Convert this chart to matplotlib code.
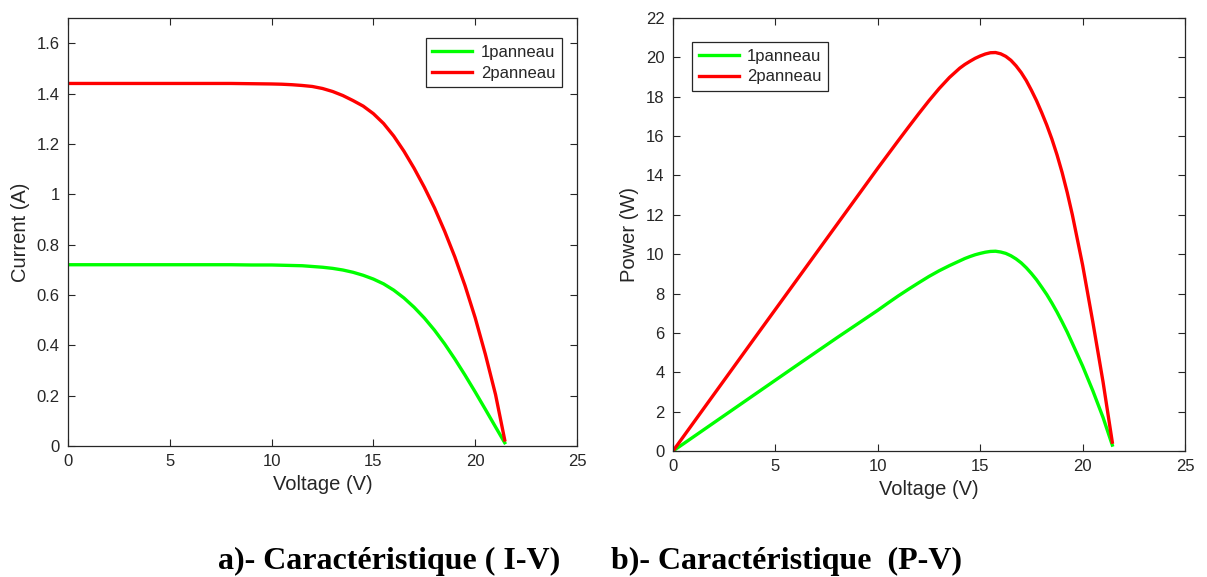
import matplotlib
matplotlib.use("Agg")
import matplotlib.pyplot as plt

# ---------------- data ----------------
voltage_iv = [0, 2, 4, 6, 8, 9, 10, 10.5, 11, 11.5, 12, 12.5, 13, 13.5, 14,
              14.5, 15, 15.5, 16, 16.5, 17, 17.5, 18, 18.5, 19, 19.5, 20,
              20.5, 21, 21.45]
current_1p = [0.720, 0.720, 0.720, 0.720, 0.720, 0.719, 0.719, 0.718, 0.717,
              0.716, 0.713, 0.710, 0.7055, 0.699, 0.690, 0.678, 0.663, 0.644,
              0.619, 0.588, 0.551, 0.5085, 0.460, 0.4055, 0.3455, 0.2815,
              0.2145, 0.1455, 0.0755, 0.013]
current_2p = [1.440, 1.440, 1.440, 1.440, 1.440, 1.439, 1.438, 1.437, 1.435,
              1.432, 1.428, 1.420, 1.408, 1.392, 1.372, 1.350, 1.320, 1.281,
              1.231, 1.171, 1.103, 1.028, 0.946, 0.853, 0.751, 0.637, 0.509,
              0.364, 0.204, 0.024]

voltage_pv = [0, 2, 4, 6, 8, 10, 10.5, 11, 11.5, 12, 12.5, 13, 13.5, 14,
              14.25, 14.5, 14.75, 15, 15.25, 15.5, 15.75, 16, 16.25, 16.5,
              16.75, 17, 17.25, 17.5, 17.75, 18, 18.25, 18.5, 18.75, 19,
              19.25, 19.5, 20, 20.5, 21, 21.45]
power_1p = [0, 1.44, 2.88, 4.32, 5.75, 7.15, 7.52, 7.88, 8.22, 8.55, 8.87,
            9.16, 9.42, 9.66, 9.78, 9.88, 9.97, 10.04, 10.10, 10.14, 10.15,
            10.11, 10.04, 9.92, 9.76, 9.56, 9.31, 9.02, 8.70, 8.33, 7.95,
            7.52, 7.06, 6.56, 6.04, 5.47, 4.32, 3.06, 1.70, 0.30]
power_2p = [0, 2.88, 5.76, 8.63, 11.50, 14.37, 15.07, 15.77, 16.46, 17.14,
            17.80, 18.42, 18.98, 19.45, 19.64, 19.80, 19.95, 20.07, 20.17,
            20.235, 20.245, 20.18, 20.05, 19.85, 19.57, 19.23, 18.82, 18.33,
            17.80, 17.20, 16.56, 15.85, 15.05, 14.15, 13.13, 12.00, 9.45,
            6.55, 3.50, 0.45]

series_labels = ["1panneau", "2panneau"]
series_colors = ["#00ff00", "#ff0000"]

x_ticks = [0, 5, 10, 15, 20, 25]
iv_yticks = [0, 0.2, 0.4, 0.6, 0.8, 1.0, 1.2, 1.4, 1.6]
iv_yticklabels = ["0", "0.2", "0.4", "0.6", "0.8", "1", "1.2", "1.4", "1.6"]
pv_yticks = [0, 2, 4, 6, 8, 10, 12, 14, 16, 18, 20, 22]

caption_a = "a)- Caractéristique ( I-V)"
caption_b = "b)- Caractéristique  (P-V)"

# ---------------- styling ----------------
plt.rcParams["font.family"] = ["Liberation Sans", "DejaVu Sans"]
DARK = "#262626"

W, H = 1207, 577
fig = plt.figure(figsize=(W / 100, H / 100), dpi=100)


def px_axes(x0, x1, y0, y1):
    return fig.add_axes([x0 / W, 1 - y1 / H, (x1 - x0) / W, (y1 - y0) / H])


def style(ax):
    for s in ax.spines.values():
        s.set_color(DARK)
        s.set_linewidth(0.9)
    ax.tick_params(direction="in", top=True, right=True, length=5,
                   width=0.8, colors=DARK, labelsize=12, pad=6)
    for lab in ax.get_xticklabels() + ax.get_yticklabels():
        lab.set_color(DARK)


ax1 = px_axes(68, 577, 18, 446)
ax2 = px_axes(673, 1185, 18, 451)

lw = 2.4
ax1.plot(voltage_iv, current_1p, color=series_colors[0], lw=lw, label=series_labels[0])
ax1.plot(voltage_iv, current_2p, color=series_colors[1], lw=lw, label=series_labels[1])
ax1.set_xlim(0, 25)
ax1.set_ylim(0, 1.7)
ax1.set_xticks(x_ticks)
ax1.set_yticks(iv_yticks)
ax1.set_yticklabels(iv_yticklabels)
ax1.set_xlabel("Voltage (V)", fontsize=14.5, color=DARK, labelpad=4)
ax1.set_ylabel("Current (A)", fontsize=14.5, color=DARK, labelpad=5)
style(ax1)

ax2.plot(voltage_pv, power_1p, color=series_colors[0], lw=lw, label=series_labels[0])
ax2.plot(voltage_pv, power_2p, color=series_colors[1], lw=lw, label=series_labels[1])
ax2.set_xlim(0, 25)
ax2.set_ylim(0, 22)
ax2.set_xticks(x_ticks)
ax2.set_yticks(pv_yticks)
ax2.set_xlabel("Voltage (V)", fontsize=14.5, color=DARK, labelpad=4)
ax2.set_ylabel("Power (W)", fontsize=14.5, color=DARK, labelpad=5)
style(ax2)

leg_kw = dict(fontsize=12, frameon=True, fancybox=False, framealpha=1,
              edgecolor=DARK, handlelength=2.4, handletextpad=0.5,
              labelspacing=0.35, borderpad=0.4, borderaxespad=0)
l1 = ax1.legend(loc="upper right", bbox_to_anchor=(0.9705, 0.953), **leg_kw)
l2 = ax2.legend(loc="upper left", bbox_to_anchor=(0.037, 0.9446), **leg_kw)
for lg in (l1, l2):
    lg.get_frame().set_linewidth(0.9)
    for t in lg.get_texts():
        t.set_color(DARK)

cap_kw = dict(fontsize=23, fontweight="bold",
              family=["Liberation Serif", "DejaVu Serif"], color="black",
              va="baseline", ha="left")
fig.text(218 / W, 1 - 569 / H, caption_a, **cap_kw)
fig.text(611 / W, 1 - 569 / H, caption_b, **cap_kw)

fig.savefig("out.png", dpi=100)
